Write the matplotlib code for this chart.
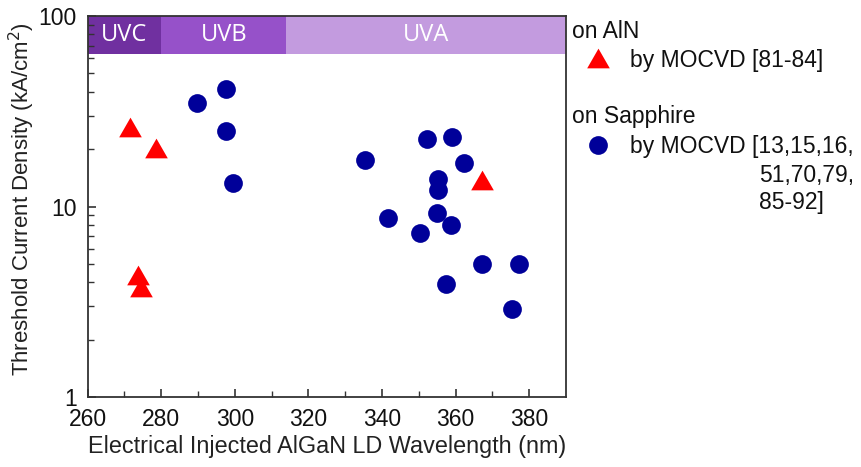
import matplotlib
matplotlib.use("Agg")
import matplotlib.pyplot as plt
import numpy as np

# Data
aln_wl = [271.5, 278.7, 273.8, 274.6, 367.2]
aln_jth = [26.0, 20.3, 4.35, 3.78, 13.8]

sap_wl = [289.7, 297.7, 297.7, 299.6, 335.4, 352.3, 359.1, 362.4, 355.2, 355.2,
          341.7, 354.9, 358.8, 350.2, 367.2, 377.2, 357.3, 375.2]
sap_jth = [35.1, 41.2, 25.0, 13.3, 17.5, 22.5, 23.2, 17.0, 13.9, 12.2,
           8.67, 9.2, 8.0, 7.28, 4.99, 5.0, 3.91, 2.88]

band_names = ["UVC", "UVB", "UVA"]
band_edges = [260, 280, 314, 390]
band_colors = ["#7030a0", "#9651c9", "#c39bdf"]
band_low, band_high = 63, 100

xticks = [260, 280, 300, 320, 340, 360, 380]

plt.rcParams['font.family'] = ['Liberation Sans', 'DejaVu Sans']

fig = plt.figure(figsize=(8.62, 4.67), dpi=100)
ax = fig.add_axes([0.1017, 0.1499, 0.5549, 0.8158])

ax.set_xlim(260, 390)
ax.set_ylim(1, 100)
ax.set_yscale('log')

for i, name in enumerate(band_names):
    x0, x1 = band_edges[i], band_edges[i + 1]
    ax.fill_between([x0, x1], band_low, band_high, color=band_colors[i],
                    linewidth=0, zorder=1)
    ax.text((x0 + x1) / 2, np.sqrt(band_low * band_high), name, color='white',
            ha='center', va='center', fontsize=17, family=['Open Sans', 'DejaVu Sans'],
            zorder=2)

tri = [(0, 0.87), (-1, -0.87), (1, -0.87)]
ax.plot(sap_wl, sap_jth, linestyle='none', marker='o', markersize=13.5,
        color='#000099', markeredgewidth=0, zorder=3)
ax.plot(aln_wl, aln_jth, linestyle='none', marker=tri, markersize=16.3,
        color='#ff0000', markeredgewidth=0, zorder=4)

ax.set_xticks(xticks)
ax.set_xticklabels([str(t) for t in xticks])
ax.set_xticks(np.arange(270, 390, 20), minor=True)
ax.set_yticks([1, 10, 100])
ax.set_yticklabels(['1', '10', '100'])
ax.tick_params(axis='both', which='both', direction='in', top=False, right=False,
               labelsize=16.5, color='#333333', labelcolor='#111111')
ax.tick_params(axis='x', which='major', length=6, width=1.2, pad=8)
ax.tick_params(axis='y', which='major', length=6, width=1.2, pad=8)
ax.tick_params(axis='both', which='minor', length=4, width=1.0)
ax.tick_params(axis='y', which='minor', labelleft=False)
for s in ax.spines.values():
    s.set_color('#333333')
    s.set_linewidth(1.3)
    s.set_zorder(5)

ax.set_xlabel('Electrical Injected AlGaN LD Wavelength (nm)', fontsize=16.8,
              color='#222222', va='center')
ax.xaxis.set_label_coords(0.5, -(447 - 397) / 381.0)
ax.set_ylabel('Threshold Current Density (kA/cm$^2$)', fontsize=16,
              color='#222222', va='center')
ax.yaxis.set_label_coords((22 - 87.7) / 478.3, 0.52)

# Legend as figure texts
def fx(px):
    return px / 862.0

def fy(py):
    return 1 - py / 467.0

lfont = dict(fontsize=16.5, color='#111111', va='center', ha='left')
fig.text(fx(572.5), fy(31.5), 'on AlN', **lfont)
fig.text(fx(630.5), fy(60.5), 'by MOCVD [81-84]', **lfont)
fig.text(fx(572.5), fy(116.5), 'on Sapphire', **lfont)
fig.text(fx(630.5), fy(146.5), 'by MOCVD [13,15,16,', **lfont)
fig.text(fx(759.5), fy(175.5), '51,70,79,', **lfont)
fig.text(fx(759.5), fy(203), '85-92]', **lfont)

lax = fig.add_axes([0, 0, 1, 1], facecolor='none')
lax.set_xlim(0, 862)
lax.set_ylim(467, 0)
lax.axis('off')
lax.plot([598.3], [57.5], linestyle='none', marker=tri, markersize=16.3,
         color='#ff0000', markeredgewidth=0)
lax.plot([598.3], [145], linestyle='none', marker='o', markersize=13.5,
         color='#000099', markeredgewidth=0)

fig.savefig('out.png', dpi=100)
